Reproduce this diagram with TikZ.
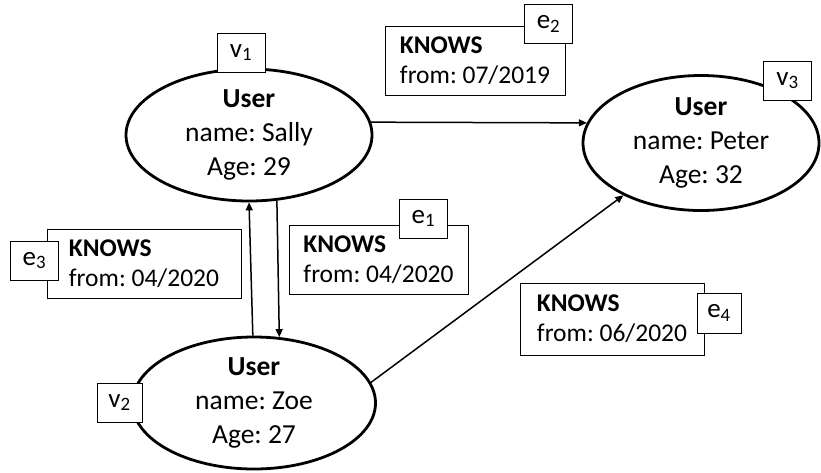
\documentclass[tikz,border=0pt]{standalone}
\usepackage{fontspec}
\setmainfont{Carlito}
\frenchspacing
\usetikzlibrary{shapes.geometric, arrows.meta, positioning}

\begin{document}
\begin{tikzpicture}[x=1pt, y=-1pt, >={Triangle[length=8pt, width=7pt]},
        user/.style={ellipse, draw, line width=2.8pt, align=center, inner sep=0pt,
          font=\fontsize{27.5}{34}\selectfont},
        tag/.style={draw, fill=white, line width=1pt, inner sep=0pt,
          minimum width=48pt, minimum height=39pt, font=\fontsize{27}{30}\selectfont},
        knows/.style={draw, fill=white, line width=1pt, align=left, inner sep=0pt,
          minimum height=69pt, font=\fontsize{25.5}{30}\selectfont}]
        \useasboundingbox (0,0) rectangle (821,472);
        % the three users
        \node[user, minimum width=246pt, minimum height=132pt] (v_1) at (249,135) {\textbf{User}\\name: Sally\\Age: 29};
        \node[user, minimum width=243pt, minimum height=132pt] (v_2) at (254,403) {\textbf{User}\\name: Zoe\\Age: 27};
        \node[user, minimum width=236pt, minimum height=135pt] (v_3) at (701,143) {\textbf{User}\\name: Peter\\Age: 32};
        \path[->, line width=1.5pt]
          (v_1.6)   edge (v_3.170)
          (v_2.91)  edge (v_1.270)
          (v_1.293) edge (v_2.69)
          (v_2.10)  edge (v_3.214);
        % edge properties
        \node[knows, minimum width=179pt] (e_1) at (378.5,259.5) {\textbf{KNOWS}\\from: 04/2020};
        \node[knows, minimum width=180pt] (e_2) at (475,61)      {\textbf{KNOWS}\\from: 07/2019};
        \node[knows, minimum width=194pt] (e_3) at (144,263.5)   {\textbf{KNOWS}\\from: 04/2020};
        \node[knows, minimum width=184pt, minimum height=72pt] (e_4) at (612,319) {\textbf{KNOWS}\\from: 06/2020};
        % ids
        \node[tag]                    (lv_1) at (241,52.5)    {v\textsubscript{1}};
        \node[tag, minimum width=45pt] (lv_2) at (119.5,402.5) {v\textsubscript{2}};
        \node[tag]                    (lv_3) at (787.5,80.5)  {v\textsubscript{3}};
        \node[tag]                    (le_1) at (423.5,218.5) {e\textsubscript{1}};
        \node[tag]                    (le_2) at (548.5,24)    {e\textsubscript{2}};
        \node[tag]                    (le_3) at (34.5,260.5)  {e\textsubscript{3}};
        \node[tag, minimum width=44pt, minimum height=40pt] (le_4) at (719,313) {e\textsubscript{4}};
\end{tikzpicture}
\end{document}
